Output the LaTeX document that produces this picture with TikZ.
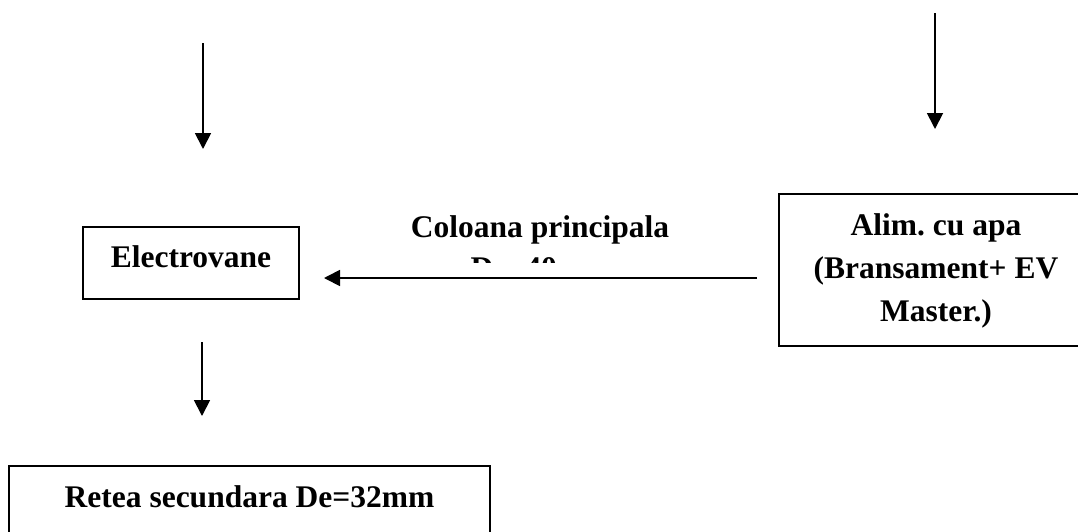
\documentclass[tikz,border=0pt]{standalone}
\usepackage{fontspec}
\setmainfont{Liberation Serif}
\usetikzlibrary{arrows.meta}
\frenchspacing
\begin{document}
\begin{tikzpicture}[x=1pt,y=-1pt,
  lbl/.style={font=\bfseries\fontsize{31.5}{43}\selectfont, inner sep=0pt},
  boxed/.style={draw, line width=1.8pt, inner sep=0pt, font=\bfseries\fontsize{31.5}{43}\selectfont},
  flow/.style={line width=1.8pt, -{Triangle[length=16pt,width=16pt]}}]
\clip (0,0) rectangle (1078,531);
\fill[white] (0,0) rectangle (1078,531);
% boxes
\node[boxed, minimum width=216pt, text height=40pt, text depth=32pt, anchor=base] (ev) at (191,267) {Electrovane};
\node[boxed, minimum width=314pt, minimum height=152pt] (alim) at (936,270) {};
\node[lbl, align=center, anchor=base] (alimtxt) at (936,321) {Alim. cu apa\\(Bransament+ EV\\Master.)};
\node[boxed, minimum width=481pt, text height=41pt, text depth=53pt, anchor=base] (ret) at (249.5,507) {Retea secundara De=32mm};
% clipped label
\begin{scope}
\clip (380,190) rectangle (720,262);
\node[lbl, font=\bfseries\fontsize{31.5}{41}\selectfont, align=center, anchor=base] (col) at (540,278) {Coloana principala\\De=40mm};
\end{scope}
% arrow ends
\coordinate (a1s) at (203,43);
\coordinate (a1e) at (203,149);
\coordinate (a2s) at (935,13);
\coordinate (a2e) at (935,129);
\coordinate (a3s) at (202,342);
\coordinate (a3e) at (202,416);
\coordinate (hs) at (757,278);
\coordinate (he) at (324,278);
\draw[flow] (a1s) -- (a1e);
\draw[flow] (a2s) -- (a2e);
\draw[flow] (a3s) -- (a3e);
\draw[flow] (hs) -- (he);
\end{tikzpicture}
\end{document}
